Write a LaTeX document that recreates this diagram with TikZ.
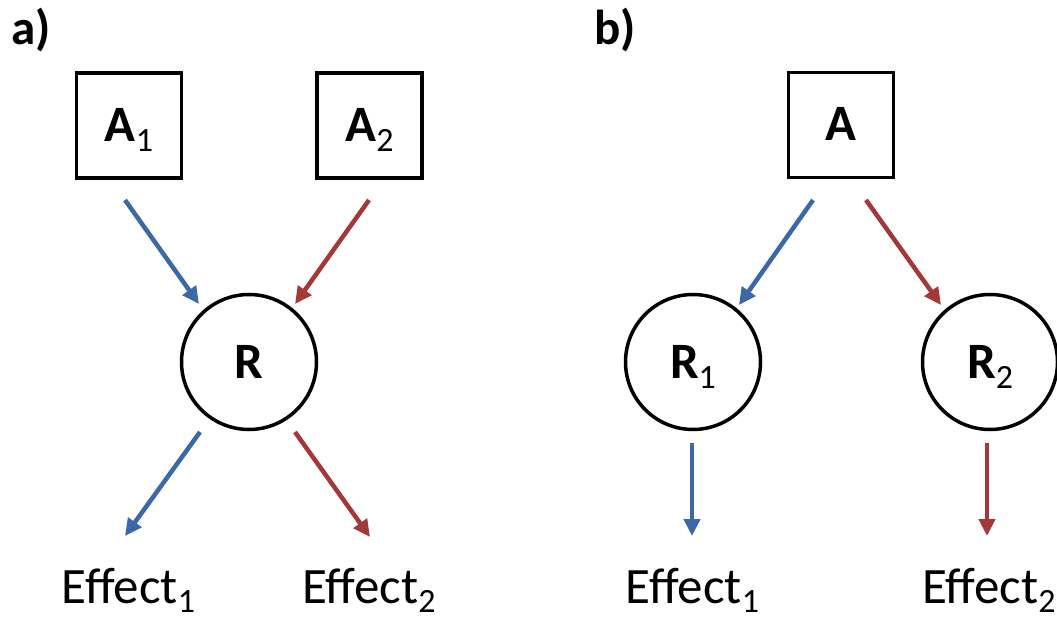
\documentclass[tikz,border=0pt]{standalone}
\usepackage{fontspec}
\setmainfont{Carlito}
\usetikzlibrary{arrows.meta,calc}
\definecolor{arrblue}{RGB}{60,105,165}
\definecolor{arrred}{RGB}{162,56,56}
\newcommand{\bsub}[1]{\raisebox{-10pt}{\fontsize{34}{34}\selectfont\mdseries #1}}
\newcommand{\esub}[1]{\raisebox{-9pt}{\fontsize{34}{34}\selectfont #1}}
\begin{document}
\begin{tikzpicture}[x=1pt,y=-1pt,
  boxnode/.style={draw,line width=3.5pt,minimum size=105pt,inner sep=0pt,
    font=\fontsize{51}{51}\selectfont\bfseries,text height=32pt,text depth=0pt},
  circnode/.style={draw,circle,line width=3.5pt,minimum size=135pt,inner sep=0pt,
    font=\fontsize{51}{51}\selectfont\bfseries,text height=32pt,text depth=0pt},
  efflabel/.style={font=\fontsize{51}{51}\selectfont,anchor=base,inner sep=0pt},
  panellabel/.style={font=\fontsize{49}{49}\selectfont\bfseries,anchor=base west,inner sep=0pt},
  conn/.style={line width=4.5pt,-{Triangle[length=17pt,width=16pt]}},
]
\useasboundingbox (0,0) rectangle (1057,617);

% panel a
\node[panellabel] (la) at (11,45) {a)};
\node[boxnode] (A1) at (129,125.5) {A\bsub{1}};
\node[boxnode] (A2) at (369.5,125.5) {A\bsub{2}};
\node[circnode] (R) at (249,362) {R};
\node[efflabel] (E1a) at (128.5,603) {Effect\esub{1}};
\node[efflabel] (E2a) at (369,603) {Effect\esub{2}};

\coordinate (a1o) at (125,200);
\coordinate (ri1) at (199,304);
\coordinate (a2o) at (369,200);
\coordinate (ri2) at (295,304);
\coordinate (ro1) at (200,432);
\coordinate (e1i) at (125,536);
\coordinate (ro2) at (295,432);
\coordinate (e2i) at (370,537);

\draw[conn,arrblue] (a1o) -- (ri1);
\draw[conn,arrred] (a2o) -- (ri2);
\draw[conn,arrblue] (ro1) -- (e1i);
\draw[conn,arrred] (ro2) -- (e2i);

% panel b
\node[panellabel] (lb) at (594,45) {b)};
\node[boxnode] (A) at (841,125) {A};
\node[circnode] (R1) at (693,362) {R\bsub{1}};
\node[circnode] (R2) at (990,362) {R\bsub{2}};
\node[efflabel] (E1b) at (692.5,603) {Effect\esub{1}};
\node[efflabel] (E2b) at (989,603) {Effect\esub{2}};

\coordinate (ao1) at (813,200);
\coordinate (r1i) at (739,305);
\coordinate (ao2) at (866,200);
\coordinate (r2i) at (941,305);
\coordinate (r1o) at (692,443);
\coordinate (eb1) at (692,536);
\coordinate (r2o) at (987,443);
\coordinate (eb2) at (987,536);

\draw[conn,arrblue] (ao1) -- (r1i);
\draw[conn,arrred] (ao2) -- (r2i);
\draw[conn,arrblue] (r1o) -- (eb1);
\draw[conn,arrred] (r2o) -- (eb2);
\end{tikzpicture}
\end{document}
